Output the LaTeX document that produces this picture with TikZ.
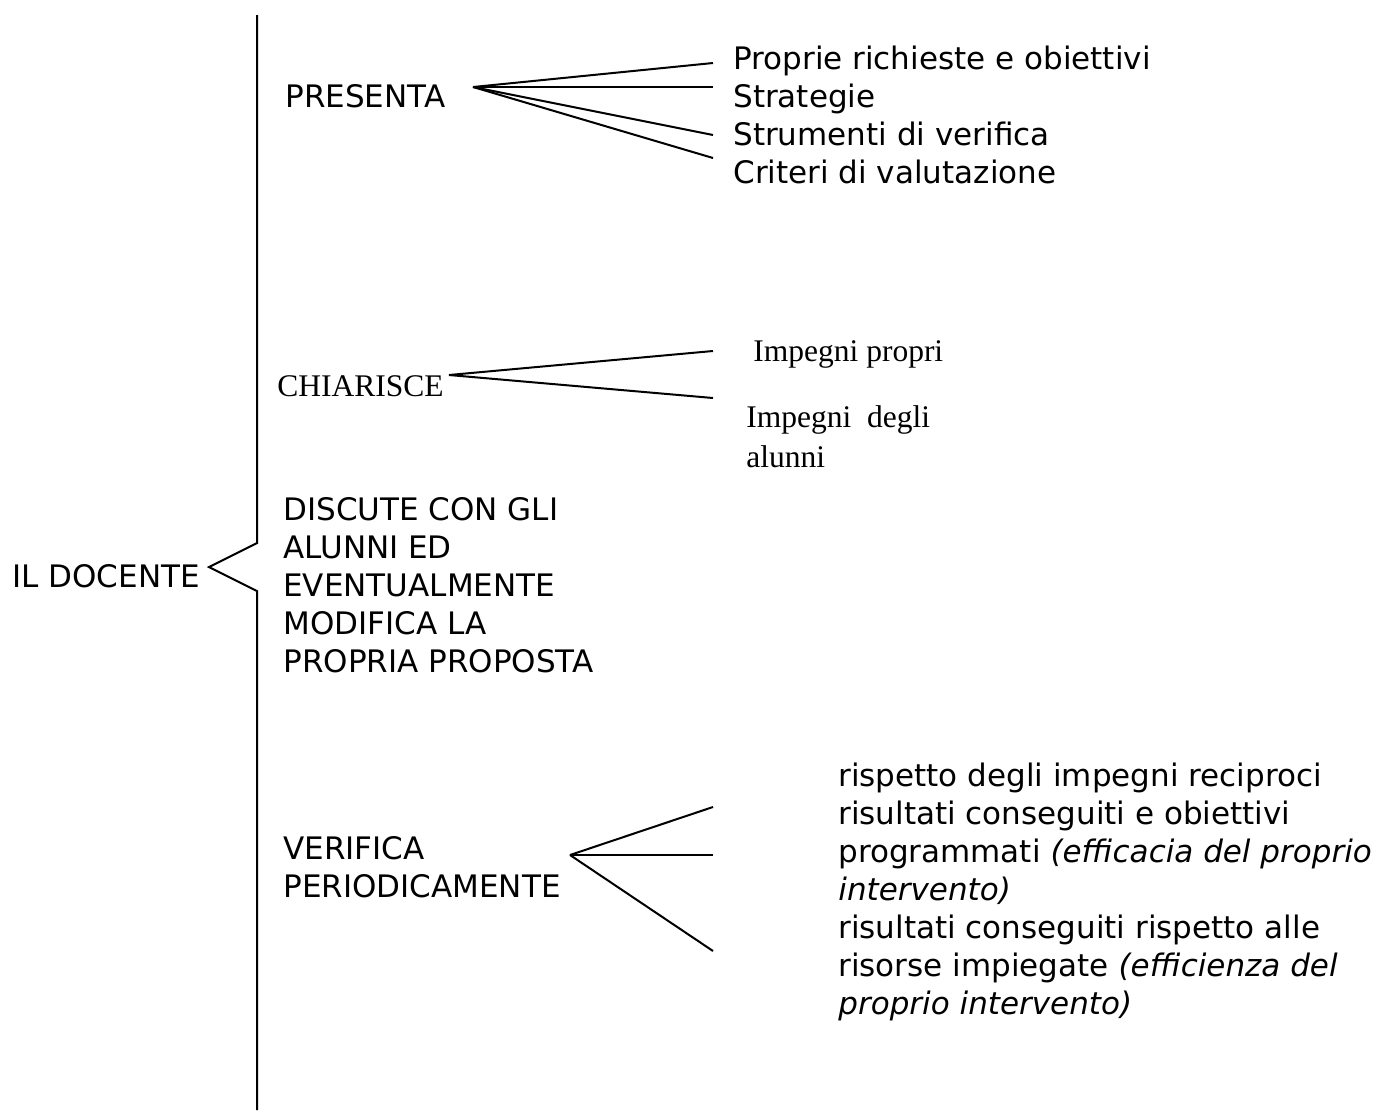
\documentclass[tikz,border=0pt]{standalone}
\usepackage{fontspec}
\setmainfont{DejaVu Sans}
\newfontfamily\timesfont{Liberation Serif}
\begin{document}
\begin{tikzpicture}[x=0.5pt,y=-0.5pt,
    every node/.style={inner sep=0pt, anchor=base west},
    sanstext/.style={font=\fontsize{15.5}{19}\selectfont, align=left},
    seriftext/.style={font=\timesfont\fontsize{15.75}{20}\selectfont, align=left},
    branch/.style={line width=1pt}]
  \useasboundingbox (0,0) rectangle (1394,1110);
  % main brace
  \node[sanstext] (docente) at (12,587) {IL DOCENTE};
  \coordinate (top) at (257,15);
  \coordinate (braceA) at (257,543);
  \coordinate (tip) at (209,567);
  \coordinate (braceB) at (257,591);
  \coordinate (bottom) at (257,1110);
  \draw[branch] (top) -- (braceA) -- (tip) -- (braceB) -- (bottom);
  % presenta
  \node[sanstext] (presenta) at (285,107) {PRESENTA};
  \node[sanstext] (richieste) at (733,69) {Proprie richieste e obiettivi};
  \node[sanstext] (strategie) at (733,107) {Strategie};
  \node[sanstext] (strumenti) at (733,145) {Strumenti di verifica};
  \node[sanstext] (criteri) at (733,183) {Criteri di valutazione};
  \coordinate (presapex) at (473,87);
  \foreach \y [count=\i] in {63,87,135,158} {
    \coordinate (presend\i) at (713,\y);
    \draw[branch] (presapex) -- (presend\i);
  }
  % chiarisce
  \node[seriftext] (chiarisce) at (277,396) {CHIARISCE};
  \node[seriftext] (propri) at (753,361) {Impegni propri};
  \node[seriftext] (alunni) at (746,467) {Impegni\ \ degli\\alunni};
  \coordinate (chiapex) at (449,375);
  \foreach \y [count=\i] in {351,398} {
    \coordinate (chiend\i) at (713,\y);
    \draw[branch] (chiapex) -- (chiend\i);
  }
  % discute (base = last line)
  \node[sanstext] (discute) at (283,672) {DISCUTE CON GLI\\ALUNNI ED\\EVENTUALMENTE\\MODIFICA LA\\PROPRIA PROPOSTA};
  % verifica
  \node[sanstext] (verifica) at (283,897) {VERIFICA\\PERIODICAMENTE};
  \node[sanstext] (esiti) at (838,1014) {rispetto degli impegni reciproci\\
    risultati conseguiti e obiettivi\\
    programmati \textit{(efficacia del proprio}\\
    \textit{intervento)}\\
    risultati conseguiti rispetto alle\\
    risorse impiegate \textit{(efficienza del}\\
    \textit{proprio intervento)}};
  \coordinate (verapex) at (570,855);
  \foreach \y [count=\i] in {807,855,951} {
    \coordinate (verend\i) at (713,\y);
    \draw[branch] (verapex) -- (verend\i);
  }
\end{tikzpicture}
\end{document}
